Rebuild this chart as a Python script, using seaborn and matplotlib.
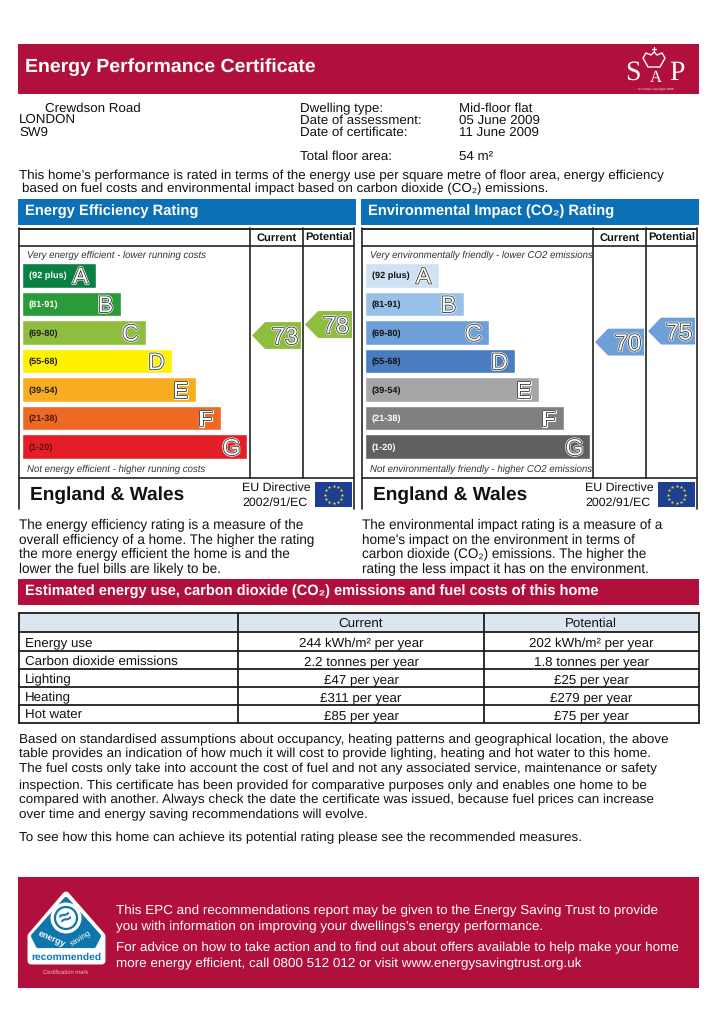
# Energy Performance Certificate page
import numpy as np
import pandas as pd
import matplotlib.pyplot as plt
import matplotlib.patheffects as pe
from matplotlib.patches import Polygon, Rectangle, Circle
import seaborn as sns

# Data
band_letters = ['A', 'B', 'C', 'D', 'E', 'F', 'G']
band_ranges = ['(92 plus)', '(81-91)', '(69-80)', '(55-68)', '(39-54)', '(21-38)', '(1-20)']
band_lengths = [74, 99, 124, 150, 174, 199, 225]
energy_colors = ['#0b8043', '#2a9a3a', '#8fbe3f', '#fff200', '#f9ac20', '#ee6a24', '#e41e26']
energy_label_colors = ['white', 'white', '#222222', '#222222', '#222222', '#4a1a10', '#5a1015']
env_colors = ['#cfe2f3', '#98c1ea', '#6f9fd8', '#4a7cc0', '#a6a6a6', '#808080', '#606060']
env_label_colors = ['#111111', '#111111', '#111111', '#111111', '#111111', 'white', 'white']
energy_current, energy_potential = 73, 78
env_current, env_potential = 70, 75

table_cols = ['Current', 'Potential']
table_rows = ['Energy use', 'Carbon dioxide emissions', 'Lighting', 'Heating', 'Hot water']
table_current = ['244 kWh/m² per year', '2.2 tonnes per year', '£47 per year', '£311 per year', '£85 per year']
table_potential = ['202 kWh/m² per year', '1.8 tonnes per year', '£25 per year', '£279 per year', '£75 per year']

RED = '#b2103c'
BLUE = '#0b70b5'
FONT = 'Liberation Sans'

sns.set_theme(style='white')
plt.rcParams['font.family'] = [FONT, 'DejaVu Sans']
plt.rcParams['text.hinting'] = 'no_hinting'
plt.rcParams['text.hinting_factor'] = 32

W, H = 715, 1033
fig = plt.figure(figsize=(W / 100, H / 100), dpi=100, facecolor='white')
page = fig.add_axes([0, 0, 1, 1])
page.set_xlim(0, W)
page.set_ylim(H, 0)
page.axis('off')


def txt(x, y, s, size=9.62, **kw):
    # y is the middle of the capitals, placed from the baseline so lines stay steady
    kw.setdefault('color', '#111111')
    if 'va' not in kw:
        kw['va'] = 'baseline'
        y = y + 0.36 * size * 100 / 72
    return page.text(x, y, s, fontsize=size, **kw)


def rect(x0, y0, x1, y1, color):
    page.add_patch(Rectangle((x0, y0), x1 - x0, y1 - y0, facecolor=color, edgecolor='none'))


def mark_text(ax, x, y, s, size, **kw):
    return ax.annotate(s, (x, y), xytext=(0, -0.36 * size), textcoords='offset points',
                       fontsize=size, va='baseline', annotation_clip=False, **kw)


def outlined(ax, x, y, s, size):
    t = mark_text(ax, x, y, s, size, color='white', ha='center')
    t.set_path_effects([pe.Stroke(linewidth=2.2, foreground='white'),
                        pe.Stroke(linewidth=1.2, foreground='#2f3a35'),
                        pe.Normal()])
    return t


# Top banner
rect(18, 44, 699, 94, RED)
txt(25, 64.5, 'Energy Performance Certificate', 14, color='white', fontweight='bold')

# SAP logo
for s, x, y, fs in [('S', 633, 70, 20), ('A', 656, 76, 12), ('P', 677, 70, 20)]:
    txt(x, y, s, fs, color='white', family='Liberation Serif', ha='center')
page.add_patch(Polygon([(648, 67), (643, 58), (646, 53), (651, 55), (654, 52), (657, 55), (662, 53), (665, 58), (660, 67)],
                       closed=True, fill=False, edgecolor='white', lw=1))
page.plot([654, 654], [47, 52], color='white', lw=0.9)
page.plot([652, 656], [49, 49], color='white', lw=0.9)
txt(656, 88.5, '© Crown copyright 2005', 2.4, color='white', ha='center')

# Address block
txt(45, 107, 'Crewdson Road')
txt(19, 118, 'LONDON')
txt(19, 131, 'SW9')
txt(300, 107, 'Dwelling type:')
txt(300, 119, 'Date of assessment:')
txt(300, 131, 'Date of certificate:')
txt(300, 155, 'Total floor area:')
txt(459, 107, 'Mid-floor flat')
txt(459, 119, '05 June 2009')
txt(459, 131, '11 June 2009')
txt(459, 155, '54 m²')

txt(19, 174, 'This home’s performance is rated in terms of the energy use per square metre of floor area, energy efficiency', 9.64)
txt(22, 187, 'based on fuel costs and environmental impact based on carbon dioxide (CO₂) emissions.', 9.64)


def rating_panel(x0, title, title_size, top_note, bottom_note, colors, label_colors, current, potential, para):
    # x0 is the left edge of the blue header
    rect(x0, 199, x0 + 338, 225, BLUE)
    txt(x0 + 7, 210.5, title, title_size, color='white', fontweight='bold')

    # frame
    left, right = x0 + 1, x0 + 336
    lv1, lv2 = x0 + 232, x0 + 285
    lc = '#222222'
    page.plot([left, right], [228.5, 228.5], color=lc, lw=1.4)
    page.plot([left, right], [246, 246], color=lc, lw=1.2)
    page.plot([left, right], [478, 478], color=lc, lw=1.2)
    page.plot([left, left], [228, 509], color=lc, lw=1.2)
    page.plot([right, right], [228, 509], color=lc, lw=1.2)
    page.plot([lv1, lv1], [228, 478], color=lc, lw=1.2)
    page.plot([lv2, lv2], [228, 478], color=lc, lw=1.2)
    txt((lv1 + lv2) / 2, 237, 'Current', 8, fontweight='bold', ha='center')
    txt((lv2 + right) / 2, 237, 'Potential', 8, fontweight='bold', ha='center')
    txt(left + 8, 254, top_note, 6.95, style='italic', color='#333333')
    txt(left + 8, 468, bottom_note, 6.95, style='italic', color='#333333')

    # rating bars, one axes unit = one pixel across
    bar_x = x0 + 4
    ax = fig.add_axes([bar_x / W, 1 - 461 / H, 240 / W, (461 - 261) / H])
    ax.patch.set_alpha(0)
    df = pd.DataFrame({'band': band_letters, 'length': band_lengths})
    sns.barplot(data=df, y='band', x='length', hue='band', palette=colors, legend=False,
                width=0.86, saturation=1, ax=ax)
    ax.set_xlim(0, 240)
    ax.axis('off')
    for i, (rng, letter, length) in enumerate(zip(band_ranges, band_letters, band_lengths)):
        mark_text(ax, 7, i, rng, 6.6, fontweight='bold', color=label_colors[i])
        outlined(ax, length - 15.5, i, letter, 16.5)

    # arrows sit on a rating scale, 2.2 px per rating point
    for value, xl, xr in [(current, lv1 + 2, lv2 - 2), (potential, lv2 + 2, right - 2)]:
        arrow = fig.add_axes([xl / W, 1 - 461 / H, (xr - xl) / W, (461 - 261) / H])
        arrow.patch.set_alpha(0)
        arrow.axis('off')
        arrow.set_xlim(0, xr - xl)
        # y limits chosen so rating 73 falls at pixel 335.5
        arrow.set_ylim(73 - (461 - 335.5) / 2.2, 73 + (335.5 - 261) / 2.2)
        d = 6.1
        col = colors[2]
        w = xr - xl
        arrow.add_patch(Polygon([(0, value), (13, value + d), (w, value + d), (w, value - d), (13, value - d)],
                                closed=True, facecolor=col, edgecolor='none', clip_on=False))
        outlined(arrow, w - 16, value, str(value), 17)

    # footer
    txt(x0 + 12, 493, 'England & Wales', 13.75, fontweight='bold', color='#111111')
    txt(x0 + 224, 486, 'EU Directive', 8.9)
    txt(x0 + 224, 501, '2002/91/EC', 8.9)
    rect(x0 + 297, 482, x0 + 334, 507, '#1c3f94')
    for a in np.linspace(0, 2 * np.pi, 12, endpoint=False):
        page.plot(x0 + 315.5 + 8.5 * np.cos(a), 494.5 + 8.5 * np.sin(a), marker='*', ms=2.6, color='#ffe000', mew=0)

    # explanation
    for k, line in enumerate(para):
        txt(x0 + 0.7, 524 + k * 14.8, line, 9.72)


rating_panel(18, 'Energy Efficiency Rating', 10.6,
             'Very energy efficient - lower running costs', 'Not energy efficient - higher running costs',
             energy_colors, energy_label_colors, energy_current, energy_potential,
             ['The energy efficiency rating is a measure of the',
              'overall efficiency of a home. The higher the rating',
              'the more energy efficient the home is and the',
              'lower the fuel bills are likely to be.'])
rating_panel(361, 'Environmental Impact (CO₂) Rating', 10.6,
             'Very environmentally friendly - lower CO2 emissions', 'Not environmentally friendly - higher CO2 emissions',
             env_colors, env_label_colors, env_current, env_potential,
             ['The environmental impact rating is a measure of a',
              'home\'s impact on the environment in terms of',
              'carbon dioxide (CO₂) emissions. The higher the',
              'rating the less impact it has on the environment.'])

# Estimated use band + table
rect(18, 579, 699, 605, RED)
txt(25, 590.5, 'Estimated energy use, carbon dioxide (CO₂) emissions and fuel costs of this home', 10.5,
    color='white', fontweight='bold')

cx = [18.5, 238, 484, 698.5]
ry = [613, 632, 651, 669, 687, 705, 723]
rect(cx[0], ry[0], cx[3], ry[1], '#dbe6f1')
for y in ry:
    page.plot([cx[0], cx[3]], [y, y], color='#1c1c1c', lw=1.3)
for x in cx:
    page.plot([x, x], [ry[0], ry[-1]], color='#1c1c1c', lw=1.3)
txt((cx[1] + cx[2]) / 2, (ry[0] + ry[1]) / 2, table_cols[0], 9.62, ha='center')
txt((cx[2] + cx[3]) / 2, (ry[0] + ry[1]) / 2, table_cols[1], 9.62, ha='center')
for i, name in enumerate(table_rows):
    yc = (ry[i + 1] + ry[i + 2]) / 2 + 0.5
    txt(25, yc, name)
    txt((cx[1] + cx[2]) / 2, yc, table_current[i], ha='center')
    txt((cx[2] + cx[3]) / 2, yc, table_potential[i], ha='center')

# Body text
body = ['Based on standardised assumptions about occupancy, heating patterns and geographical location, the above',
        'table provides an indication of how much it will cost to provide lighting, heating and hot water to this home.',
        'The fuel costs only take into account the cost of fuel and not any associated service, maintenance or safety',
        'inspection. This certificate has been provided for comparative purposes only and enables one home to be',
        'compared with another. Always check the date the certificate was issued, because fuel prices can increase',
        'over time and energy saving recommendations will evolve.']
for line, y in zip(body, [738, 752, 767, 784, 798, 813]):
    txt(19, y, line, 9.69)
txt(19, 836, 'To see how this home can achieve its potential rating please see the recommended measures.', 9.69)

# Footer band
rect(18, 877, 699, 988, RED)
txt(116, 909, 'This EPC and recommendations report may be given to the Energy Saving Trust to provide', 9.7, color='white')
txt(116, 925, 'you with information on improving your dwellings’s energy performance.', 9.7, color='white')
txt(116, 946, 'For advice on how to take action and to find out about offers available to help make your home', 9.7, color='white')
txt(116, 962, 'more energy efficient, call 0800 512 012 or visit www.energysavingtrust.org.uk', 9.7, color='white')

# Energy saving logo
page.add_patch(Polygon([(66, 895), (102, 936), (102, 961), (31, 961), (31, 936)], closed=True,
                       facecolor='white', edgecolor='white', lw=5, joinstyle='round'))
page.add_patch(Polygon([(66, 899), (99, 936), (94, 946), (38, 946), (33, 936)], closed=True,
                       facecolor='#0f75ac', edgecolor='#0f75ac', lw=3, joinstyle='round'))
page.add_patch(Circle((66, 918), 15.5, facecolor='white', edgecolor='none'))
page.add_patch(Circle((66, 918), 11, facecolor='none', edgecolor='#0f75ac', lw=1.6))
txt(66, 918, '≈', 15, color='#0f75ac', ha='center', fontweight='bold', rotation=25, va='center')
txt(52, 939, 'energy', 6.4, color='white', ha='center', rotation=-24, fontweight='bold', va='center')
txt(81, 939, 'saving', 5.8, color='white', ha='center', rotation=32, va='center')
txt(66, 956, 'recommended', 7.4, color='#0f75ac', ha='center', fontweight='bold')
txt(66, 972, 'Certification mark', 4.2, color='#e8b8c4', ha='center')

fig.savefig('out.png', dpi=100, facecolor='white')
